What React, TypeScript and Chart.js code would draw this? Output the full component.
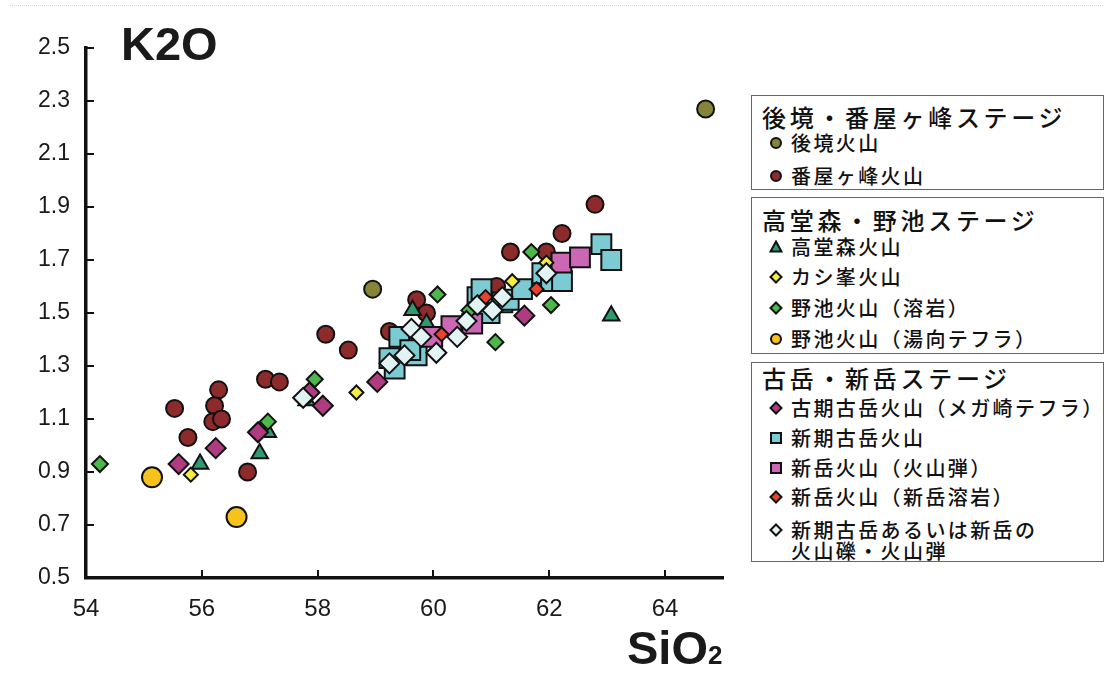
import React, { useEffect, useRef } from "react";
import { Chart, registerables } from "chart.js";

Chart.register(...registerables);

// ---- axis ticks ----
const xTickValues = [54, 56, 58, 60, 62, 64];
const yTickValues = [0.5, 0.7, 0.9, 1.1, 1.3, 1.5, 1.7, 1.9, 2.1, 2.3, 2.5];

// ---- series (SiO2 / K2O) ----
const gotokyoSiO2 = [64.7, 58.95];
const gotokyoK2O = [2.27, 1.59];

const banyaSiO2 = [55.53, 55.76, 56.29, 56.22, 56.19, 56.34, 56.79, 57.1, 57.34, 58.14, 58.53, 59.24, 59.71, 59.88, 61.09, 61.33, 61.95, 62.22, 62.79];
const banyaK2O = [1.14, 1.03, 1.21, 1.15, 1.09, 1.1, 0.9, 1.25, 1.24, 1.42, 1.36, 1.43, 1.55, 1.5, 1.6, 1.73, 1.73, 1.8, 1.91];

const takadomoriSiO2 = [55.97, 57.0, 57.14, 57.81, 59.64, 59.88, 63.07];
const takadomoriK2O = [0.93, 0.97, 1.05, 1.17, 1.51, 1.46, 1.49];

const kashiSiO2 = [55.81, 58.67, 61.36, 61.95];
const kashiK2O = [0.89, 1.2, 1.62, 1.69];

const noikeLavaSiO2 = [54.24, 57.14, 57.95, 60.07, 60.62, 61.07, 61.69, 62.03];
const noikeLavaK2O = [0.93, 1.09, 1.25, 1.57, 1.51, 1.39, 1.73, 1.53];

const noikeTephraSiO2 = [55.14, 56.6];
const noikeTephraK2O = [0.88, 0.73];

const megasakiSiO2 = [55.6, 56.24, 56.97, 57.86, 58.09, 59.03, 61.57];
const megasakiK2O = [0.93, 0.99, 1.05, 1.2, 1.15, 1.24, 1.49];

const shinkiSiO2 = [59.24, 59.33, 59.41, 59.71, 59.6, 60.76, 60.83, 60.97, 61.19, 61.3, 61.53, 61.88, 62.03, 62.22, 62.9, 63.07];
const shinkiK2O = [1.33, 1.29, 1.41, 1.34, 1.36, 1.56, 1.59, 1.5, 1.54, 1.55, 1.59, 1.65, 1.62, 1.62, 1.76, 1.7];

const shindakeBombSiO2 = [59.98, 60.31, 60.67, 62.21, 62.53];
const shindakeBombK2O = [1.41, 1.45, 1.46, 1.69, 1.71];

const shindakeLavaSiO2 = [60.14, 60.9, 61.78];
const shindakeLavaK2O = [1.42, 1.56, 1.59];

const ejectaSiO2 = [57.75, 59.24, 59.5, 59.62, 59.79, 60.05, 60.41, 60.57, 60.76, 61.02, 61.19, 61.95];
const ejectaK2O = [1.18, 1.31, 1.34, 1.44, 1.41, 1.35, 1.41, 1.47, 1.53, 1.51, 1.56, 1.65];

type Series = {
  key: string;
  label: string;
  xs: number[];
  ys: number[];
  style: "circle" | "triangle" | "rectRot" | "rect";
  color: string;
  radius: number;
};

// bottom -> top drawing order
const series: Series[] = [
  { key: "banya", label: "番屋ヶ峰火山", xs: banyaSiO2, ys: banyaK2O, style: "circle", color: "#8c2a2c", radius: 8.5 },
  { key: "gotokyo", label: "後境火山", xs: gotokyoSiO2, ys: gotokyoK2O, style: "circle", color: "#85853a", radius: 8.5 },
  { key: "tephra", label: "野池火山（湯向テフラ）", xs: noikeTephraSiO2, ys: noikeTephraK2O, style: "circle", color: "#f6c21b", radius: 10 },
  { key: "taka", label: "高堂森火山", xs: takadomoriSiO2, ys: takadomoriK2O, style: "triangle", color: "#2f9a70", radius: 9.5 },
  { key: "shinki", label: "新期古岳火山", xs: shinkiSiO2, ys: shinkiK2O, style: "rect", color: "#7ccbd2", radius: 14 },
  { key: "bomb", label: "新岳火山（火山弾）", xs: shindakeBombSiO2, ys: shindakeBombK2O, style: "rect", color: "#cc67b6", radius: 14 },
  { key: "mega", label: "古期古岳火山（メガ崎テフラ）", xs: megasakiSiO2, ys: megasakiK2O, style: "rectRot", color: "#b03b80", radius: 10 },
  { key: "noike", label: "野池火山（溶岩）", xs: noikeLavaSiO2, ys: noikeLavaK2O, style: "rectRot", color: "#4db84a", radius: 8 },
  { key: "kashi", label: "カシ峯火山", xs: kashiSiO2, ys: kashiK2O, style: "rectRot", color: "#f5ee3c", radius: 7 },
  { key: "ejecta", label: "新期古岳あるいは新岳の\n火山礫・火山弾", xs: ejectaSiO2, ys: ejectaK2O, style: "rectRot", color: "#e2f3f3", radius: 10 },
  { key: "lava", label: "新岳火山（新岳溶岩）", xs: shindakeLavaSiO2, ys: shindakeLavaK2O, style: "rectRot", color: "#e8432c", radius: 7 },
];

const legendGroups = [
  { title: "後境・番屋ヶ峰ステージ", top: 95, bottom: 190, titleY: 117, items: [["gotokyo", 143], ["banya", 176]] },
  { title: "高堂森・野池ステージ", top: 197, bottom: 354, titleY: 220, items: [["taka", 247], ["kashi", 277], ["noike", 308], ["tephra", 339]] },
  { title: "古岳・新岳ステージ", top: 362, bottom: 562, titleY: 378, items: [["mega", 408], ["shinki", 438], ["bomb", 468], ["lava", 497], ["ejecta", 530]] },
];

const innerTicks = {
  id: "innerTicks",
  afterDraw(chart: any) {
    const ctx = chart.ctx;
    const xs = chart.scales.x;
    const ys = chart.scales.y;
    const area = chart.chartArea;
    ctx.save();
    ctx.strokeStyle = "#111";
    ctx.lineWidth = 2;
    ctx.beginPath();
    xs.ticks.forEach((t: any) => {
      const px = Math.round(xs.getPixelForValue(t.value));
      if (px <= area.left + 2) return;
      ctx.moveTo(px, area.bottom);
      ctx.lineTo(px, area.bottom - 8);
    });
    ys.ticks.forEach((t: any) => {
      const py = Math.round(ys.getPixelForValue(t.value));
      if (py >= area.bottom - 2) return;
      ctx.moveTo(area.left, py);
      ctx.lineTo(area.left + 8, py);
    });
    ctx.stroke();
    ctx.restore();
  },
};

function Marker({ s }: { s: Series }) {
  const c = s.color;
  let shape: any;
  if (s.style === "circle") shape = <circle cx="7" cy="7" r="5" fill={c} stroke="#111" strokeWidth="2" />;
  else if (s.style === "triangle") shape = <polygon points="7,1.5 12.5,11.5 1.5,11.5" fill={c} stroke="#111" strokeWidth="2" />;
  else if (s.style === "rect") shape = <rect x="2" y="2" width="10" height="10" fill={c} stroke="#111" strokeWidth="2" />;
  else shape = <polygon points="7,1.5 12.5,7 7,12.5 1.5,7" fill={c} stroke="#111" strokeWidth="2" />;
  return (
    <svg width="14" height="14" style={{ position: "absolute", left: 769, top: -7 }}>
      {shape}
    </svg>
  );
}

export default function App() {
  const canvasRef = useRef<HTMLCanvasElement>(null);

  useEffect(() => {
    if (!canvasRef.current) return;
    const n = series.length;
    const chart = new Chart(canvasRef.current, {
      type: "scatter",
      data: {
        datasets: series.map((s, i) => ({
          label: s.label,
          data: s.xs.map((x, j) => ({ x, y: s.ys[j] })),
          pointStyle: s.style,
          pointRadius: s.radius,
          pointBackgroundColor: s.color,
          pointBorderColor: "#111",
          pointBorderWidth: 2,
          order: n - i,
        })),
      },
      options: {
        responsive: false,
        animation: false,
        devicePixelRatio: 1,
        events: [],
        layout: { padding: { top: 48, right: 17, left: 0, bottom: 0 } },
        plugins: { legend: { display: false }, tooltip: { enabled: false }, title: { display: false } },
        scales: {
          x: {
            type: "linear",
            min: 54,
            max: 65,
            afterBuildTicks: (scale: any) => {
              scale.ticks = xTickValues.map((v) => ({ value: v }));
            },
            afterFit: (scale: any) => {
              scale.height = 97;
            },
            grid: { display: false, drawTicks: false },
            border: { display: true, color: "#111", width: 3.5 },
            ticks: {
              padding: 17,
              color: "#1a1a1a",
              font: { family: "'Liberation Sans', Arial, sans-serif", size: 24 },
              callback: (v: any) => String(v),
            },
          },
          y: {
            type: "linear",
            min: 0.5,
            max: 2.5,
            afterBuildTicks: (scale: any) => {
              scale.ticks = yTickValues.map((v) => ({ value: v }));
            },
            afterFit: (scale: any) => {
              scale.width = 86;
            },
            grid: { display: false, drawTicks: false },
            border: { display: true, color: "#111", width: 3.5 },
            ticks: {
              padding: 16,
              color: "#1a1a1a",
              font: { family: "'Liberation Sans', Arial, sans-serif", size: 23 },
              callback: (v: any) => Number(v).toFixed(1),
            },
          },
        },
      },
      plugins: [innerTicks],
    } as any);
    return () => chart.destroy();
  }, []);

  const byKey: Record<string, Series> = {};
  series.forEach((s) => (byKey[s.key] = s));

  const cjk = "'Noto Sans CJK JP', 'Noto Sans CJK SC', sans-serif";

  return (
    <div style={{ position: "absolute", left: 0, top: 0, width: 1109, height: 675, background: "#fff", overflow: "hidden" }}>
      <div style={{ position: "absolute", left: 10, right: 6, top: 5, borderTop: "1px dotted #d8d8d8" }} />
      <canvas ref={canvasRef} width={740} height={675} style={{ position: "absolute", left: 0, top: 0, width: 740, height: 675 }} />
      <div
        style={{
          position: "absolute",
          left: 121,
          top: 17,
          fontFamily: "'Liberation Sans', Arial, sans-serif",
          fontWeight: "bold",
          fontSize: 47,
          lineHeight: "54px",
          color: "#1a1a1a",
        }}
      >
        K2O
      </div>
      <div
        style={{
          position: "absolute",
          left: 627,
          top: 621,
          fontFamily: "'Liberation Sans', Arial, sans-serif",
          fontWeight: "bold",
          fontSize: 47,
          lineHeight: "54px",
          color: "#1a1a1a",
          whiteSpace: "nowrap",
        }}
      >
        SiO<span style={{ fontSize: 26, verticalAlign: "baseline" }}>2</span>
      </div>
      {legendGroups.map((g) => (
        <React.Fragment key={g.title}>
          <div
            style={{
              position: "absolute",
              left: 751,
              top: g.top,
              width: 353,
              height: g.bottom - g.top,
              border: "1.5px solid #666",
              boxSizing: "border-box",
              background: "#fff",
            }}
          />
          <div
            style={{
              position: "absolute",
              left: 762,
              top: g.titleY - 15,
              height: 30,
              lineHeight: "30px",
              fontFamily: cjk,
              fontSize: 24,
              fontWeight: 500,
              letterSpacing: "3.7px",
              color: "#111",
              whiteSpace: "nowrap",
            }}
          >
            {g.title}
          </div>
          {g.items.map(([k, y]) => {
            const s = byKey[k as string];
            const lines = s.label.split("\n");
            return (
              <div key={k as string} style={{ position: "absolute", left: 0, top: y as number, width: 0, height: 0 }}>
                <Marker s={s} />
                {lines.map((ln, li) => (
                  <div
                    key={li}
                    style={{
                      position: "absolute",
                      left: 791,
                      top: -12 + li * 21,
                      height: 24,
                      lineHeight: "24px",
                      fontFamily: cjk,
                      fontSize: 20,
                      fontWeight: 500,
                      letterSpacing: "2.4px",
                      color: "#111",
                      whiteSpace: "nowrap",
                    }}
                  >
                    {ln}
                  </div>
                ))}
              </div>
            );
          })}
        </React.Fragment>
      ))}
    </div>
  );
}
